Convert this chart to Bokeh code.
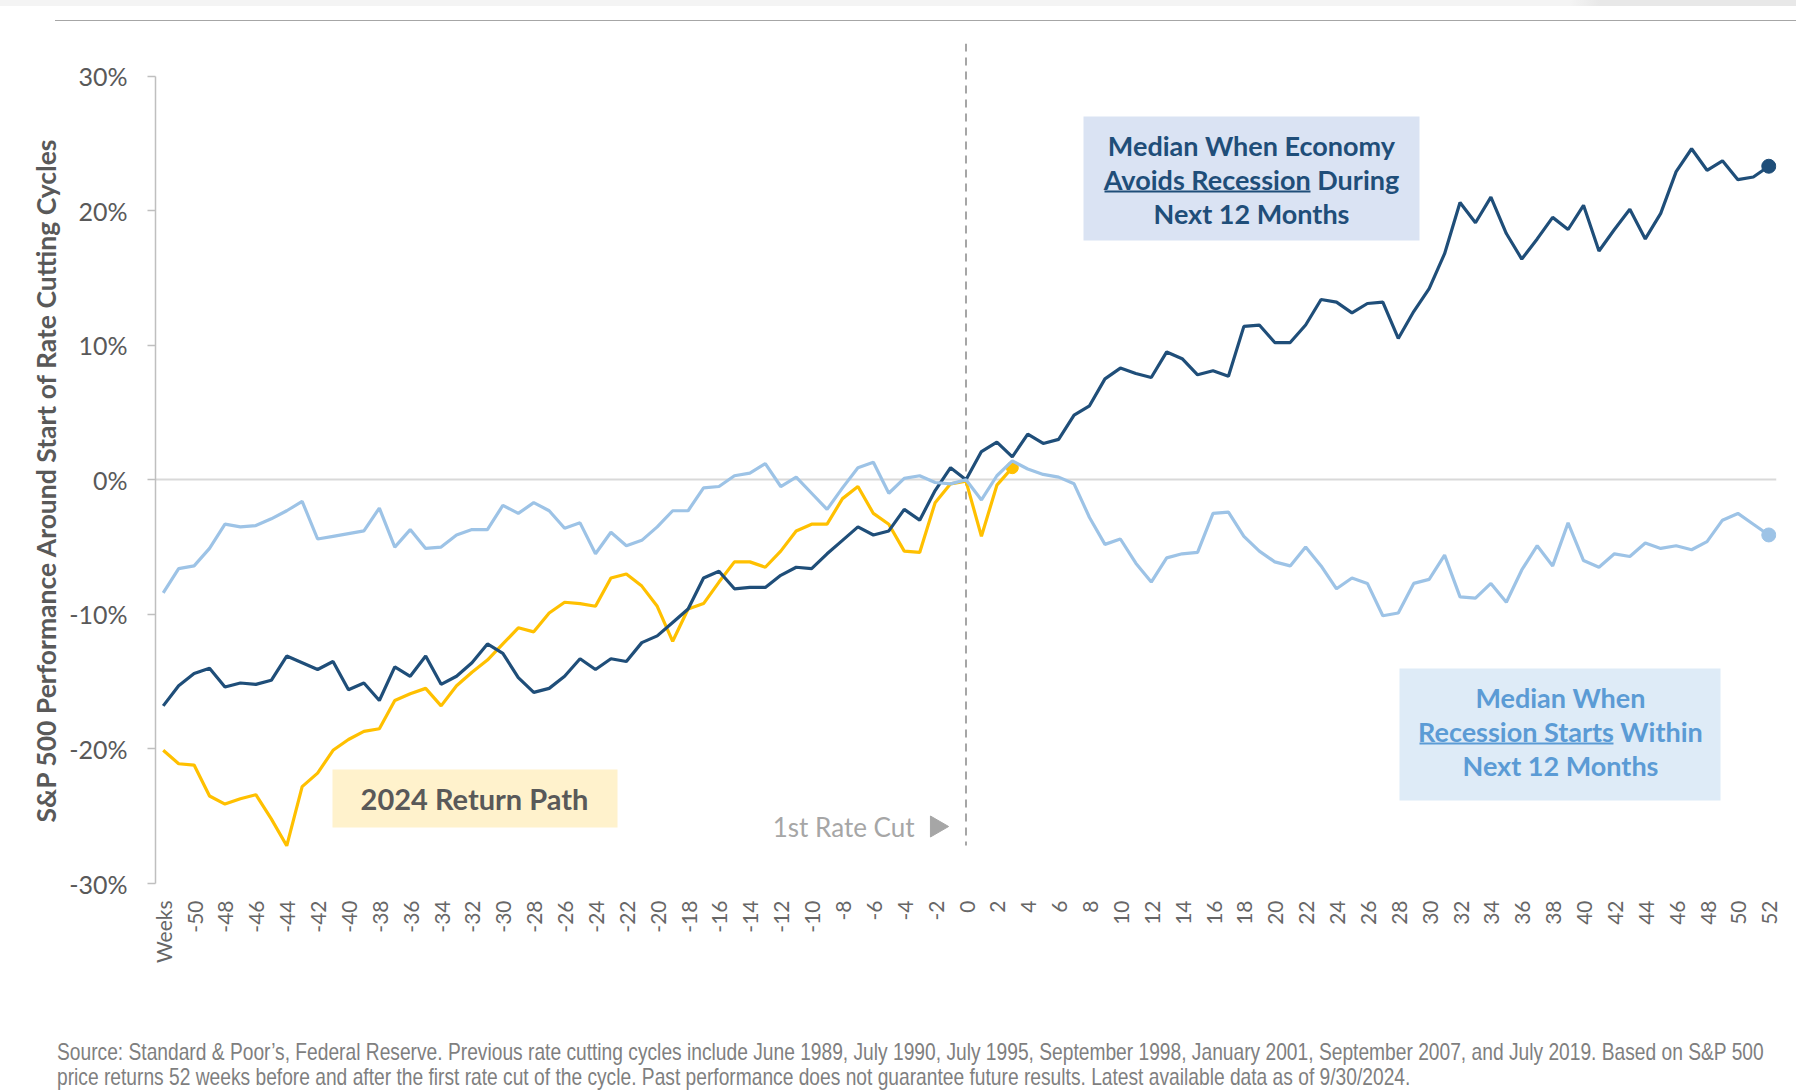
import math
import html
from bokeh.plotting import figure
from bokeh.layouts import column
from bokeh.models import Range1d, FixedTicker, PrintfTickFormatter, Label, BoxAnnotation, Div, Title
from bokeh.embed import file_html
from bokeh.resources import INLINE

# ---------------- data ----------------
weeks = list(range(-52, 53))

avoid_recession = [
    -16.8, -15.3, -14.4, -14.0, -15.4, -15.1, -15.2, -14.9, -13.1, -13.6,
    -14.1, -13.5, -15.6, -15.1, -16.4, -13.9, -14.6, -13.1, -15.2, -14.6,
    -13.6, -12.2, -12.9, -14.7, -15.8, -15.5, -14.6, -13.3, -14.1, -13.3,
    -13.5, -12.1, -11.6, -10.6, -9.6, -7.3, -6.8, -8.1, -8.0, -8.0,
    -7.1, -6.5, -6.6, -5.5, -4.5, -3.5, -4.1, -3.8, -2.2, -3.0,
    -0.8, 0.9, 0.0, 2.1, 2.8, 1.7, 3.4, 2.7, 3.0, 4.8,
    5.5, 7.5, 8.3, 7.9, 7.6, 9.5, 9.0, 7.8, 8.1, 7.7,
    11.4, 11.5, 10.2, 10.2, 11.5, 13.4, 13.2, 12.4, 13.1, 13.2,
    10.5, 12.5, 14.2, 16.8, 20.6, 19.1, 21.0, 18.3, 16.4, 17.9,
    19.5, 18.6, 20.4, 17.0, 18.6, 20.1, 17.9, 19.8, 22.9, 24.6,
    23.0, 23.7, 22.3, 22.5, 23.3,
]

recession_starts = [
    -8.4, -6.6, -6.4, -5.1, -3.3, -3.5, -3.4, -2.9, -2.3, -1.6,
    -4.4, -4.2, -4.0, -3.8, -2.1, -5.0, -3.7, -5.1, -5.0, -4.1,
    -3.7, -3.7, -1.9, -2.5, -1.7, -2.3, -3.6, -3.2, -5.5, -3.9,
    -4.9, -4.5, -3.5, -2.3, -2.3, -0.6, -0.5, 0.3, 0.5, 1.2,
    -0.5, 0.2, -1.0, -2.2, -0.6, 0.9, 1.3, -1.0, 0.1, 0.3,
    -0.2, -0.3, 0.0, -1.5, 0.3, 1.4, 0.8, 0.4, 0.2, -0.3,
    -2.8, -4.8, -4.4, -6.2, -7.6, -5.8, -5.5, -5.4, -2.5, -2.4,
    -4.2, -5.3, -6.1, -6.4, -5.0, -6.4, -8.1, -7.3, -7.7, -10.1,
    -9.9, -7.7, -7.4, -5.6, -8.7, -8.8, -7.7, -9.1, -6.7, -4.9,
    -6.4, -3.2, -6.0, -6.5, -5.5, -5.7, -4.7, -5.1, -4.9, -5.2,
    -4.6, -3.0, -2.5, -3.3, -4.1,
]

weeks_2024 = list(range(-52, 4))
return_2024 = [
    -20.1, -21.1, -21.2, -23.5, -24.1, -23.7, -23.4, -25.2, -27.2, -22.8,
    -21.8, -20.1, -19.3, -18.7, -18.5, -16.4, -15.9, -15.5, -16.8, -15.3,
    -14.3, -13.4, -12.2, -11.0, -11.3, -9.9, -9.1, -9.2, -9.4, -7.3,
    -7.0, -7.9, -9.4, -12.0, -9.6, -9.2, -7.6, -6.1, -6.1, -6.5,
    -5.3, -3.8, -3.3, -3.3, -1.4, -0.5, -2.5, -3.3, -5.3, -5.4,
    -1.7, -0.3, -0.1, -4.2, -0.4, 0.9,
]

y_ticks = [-30, -20, -10, 0, 10, 20, 30]
x_ticks = list(range(-52, 53, 2))
x_tick_labels = {w: ("Weeks" if w == -52 else str(w)) for w in x_ticks}

y_title = "S&P 500 Performance Around Start of Rate Cutting Cycles"
box_avoid_lines = ["Median When Economy", "Avoids Recession During", "Next 12 Months"]
box_rec_lines = ["Median When", "Recession Starts Within", "Next 12 Months"]
box_2024_text = "2024 Return Path"
cut_text = "1st Rate Cut"
footer_lines = [
    "Source: Standard & Poor\u2019s, Federal Reserve. Previous rate cutting cycles include June 1989, July 1990, July 1995, September 1998, January 2001, September 2007, and July 2019. Based on S&P 500",
    "price returns 52 weeks before and after the first rate cut of the cycle. Past performance does not guarantee future results. Latest available data as of 9/30/2024.",
]

# ---------------- styling / geometry ----------------
NAVY = "#1f4e79"
LIGHT = "#9dc3e6"
GOLD = "#ffc000"
GREY_TXT = "#595959"

PAGE_W = 1796
TOP_H = 22          # top strip with rule
FOOT_H = 61         # footer block
FIG_H = 1091 - TOP_H - FOOT_H
BL, BR, BT, BB = 155, 20, 21, 147
# page-pixel geometry of the plotting frame
FL, FR = BL, PAGE_W - BR
FT, FB = TOP_H + BT, TOP_H + FIG_H - BB
X0, X1 = -52.5, 52.5
Y0 = -30.0
PXW = (FR - FL) / (X1 - X0)
PXY = 13.457
Y1 = Y0 + (FB - FT) / PXY


def px2x(px):
    return X0 + (px - FL) / PXW


def px2y(py):
    return Y0 + (FB - py) / PXY


p = figure(width=PAGE_W, height=FIG_H, output_backend="svg", toolbar_location=None,
           x_range=Range1d(X0, X1), y_range=Range1d(Y0, Y1),
           min_border_left=BL, min_border_right=BR, min_border_top=BT, min_border_bottom=BB,
           background_fill_color="white", border_fill_color="white", title=None, margin=0)
p.outline_line_color = None

# axes
p.yaxis.ticker = FixedTicker(ticks=y_ticks)
p.yaxis.bounds = (-30, 30)
p.yaxis.formatter = PrintfTickFormatter(format="%d%%")
p.yaxis.axis_line_color = "#bfbfbf"
p.yaxis.axis_line_width = 1.5
p.yaxis.major_tick_line_color = "#bfbfbf"
p.yaxis.major_tick_line_width = 1.5
p.yaxis.major_tick_out = 8
p.yaxis.major_tick_in = 0
p.yaxis.minor_tick_line_color = None
p.yaxis.major_label_text_font = "Lato"
p.yaxis.major_label_text_font_size = "25px"
p.yaxis.major_label_text_color = GREY_TXT
p.yaxis.major_label_standoff = 20

p.xaxis.ticker = FixedTicker(ticks=x_ticks)
p.xaxis.major_label_overrides = x_tick_labels
p.xaxis.major_label_orientation = math.pi / 2
p.xaxis.axis_line_color = None
p.xaxis.major_tick_line_color = None
p.xaxis.minor_tick_line_color = None
p.xaxis.major_tick_out = 0
p.xaxis.major_tick_in = 0
p.xaxis.major_label_standoff = 17
p.xaxis.major_label_text_font = "Lato"
p.xaxis.major_label_text_font_size = "21px"
p.xaxis.major_label_text_color = "#666666"

p.xgrid.grid_line_color = None
p.ygrid.ticker = FixedTicker(ticks=[0])
p.ygrid.grid_line_color = "#d9d9d9"
p.ygrid.grid_line_width = 2

# y-axis title (side title, anchored at its start so it can be positioned along the axis)
p.add_layout(Title(text=y_title, align="left", offset=61, standoff=10,
                   text_font="Lato", text_font_style="bold", text_font_size="26.5px",
                   text_color=GREY_TXT), "left")

# annotation boxes
p.add_layout(BoxAnnotation(left=px2x(1083), right=px2x(1419), top=px2y(116), bottom=px2y(240),
                           fill_color="#dae3f3", fill_alpha=1, line_color=None, level="underlay"))
p.add_layout(BoxAnnotation(left=px2x(1399), right=px2x(1720), top=px2y(668), bottom=px2y(800),
                           fill_color="#deebf7", fill_alpha=1, line_color=None, level="underlay"))
p.add_layout(BoxAnnotation(left=px2x(332), right=px2x(617), top=px2y(769), bottom=px2y(827),
                           fill_color="#fff2cc", fill_alpha=1, line_color=None, level="underlay"))

# rate cut marker line
p.segment(x0=[0], y0=[px2y(43)], x1=[0], y1=[px2y(845)], line_color="#a6a6a6",
          line_width=2, line_dash="8 6")

# series
p.line(weeks_2024, return_2024, line_color=GOLD, line_width=3.2)
p.scatter([weeks_2024[-1]], [return_2024[-1]], size=12, color=GOLD)
p.line(weeks, avoid_recession, line_color=NAVY, line_width=3.2)
p.scatter([weeks[-1]], [avoid_recession[-1]], size=14, color=NAVY)
p.line(weeks, recession_starts, line_color=LIGHT, line_width=3.2)
p.scatter([weeks[-1]], [recession_starts[-1]], size=14, color=LIGHT)

# texts in boxes
for txt, py in zip(box_avoid_lines, [145, 179, 213]):
    p.add_layout(Label(x=px2x(1251), y=px2y(py), text=txt, text_align="center", text_baseline="middle",
                       text_font="Lato", text_font_style="bold", text_font_size="27px", text_color=NAVY))
for txt, py in zip(box_rec_lines, [697, 731, 765]):
    p.add_layout(Label(x=px2x(1560), y=px2y(py), text=txt, text_align="center", text_baseline="middle",
                       text_font="Lato", text_font_style="bold", text_font_size="27px", text_color="#5b9bd5"))
p.add_layout(Label(x=px2x(474), y=px2y(798), text=box_2024_text, text_align="center", text_baseline="middle",
                   text_font="Lato", text_font_style="bold", text_font_size="29px", text_color=GREY_TXT))

# underlines
p.segment(x0=[px2x(1104)], y0=[px2y(191)], x1=[px2x(1310)], y1=[px2y(191)], line_color=NAVY, line_width=2)
p.segment(x0=[px2x(1419)], y0=[px2y(743)], x1=[px2x(1613)], y1=[px2y(743)], line_color="#5b9bd5", line_width=2)

# 1st rate cut
p.add_layout(Label(x=px2x(914), y=px2y(826), text=cut_text, text_align="right", text_baseline="middle",
                   text_font="Lato", text_font_size="26px", text_color="#a6a6a6"))
p.scatter([px2x(936)], [px2y(826)], marker="triangle", angle=-math.pi / 2, size=21,
          color="#a6a6a6")

# top strip with rule
top = Div(width=PAGE_W, height=TOP_H, margin=0, text=(
    '<div style="position:relative;width:1796px;height:22px;">'
    '<div style="position:absolute;left:0;top:0;width:1796px;height:6px;'
    'background:linear-gradient(to right,#f4f4f4 0,#f4f4f4 1570px,#e8e8e8 1600px);"></div>'
    '<div style="position:absolute;left:55px;top:20px;width:1741px;height:0;'
    'border-top:1.5px solid #a6a6a6;"></div></div>'))

# footer
foot = Div(width=PAGE_W, height=FOOT_H, margin=0, text=(
    '<div style="width:1796px;height:61px;overflow:hidden;">'
    '<div style="padding-left:57px;padding-top:9px;">'
    '<div style="font-family:\'Liberation Sans\',Arial,sans-serif;font-size:24px;line-height:25px;'
    'color:#7f7f7f;white-space:nowrap;transform:scaleX(0.80);transform-origin:0 0;">'
    + "<br>".join(html.escape(t) for t in footer_lines) + "</div></div></div>"))

layout = column(top, p, foot, spacing=0)
open("out.html", "w").write(file_html(layout, INLINE))
